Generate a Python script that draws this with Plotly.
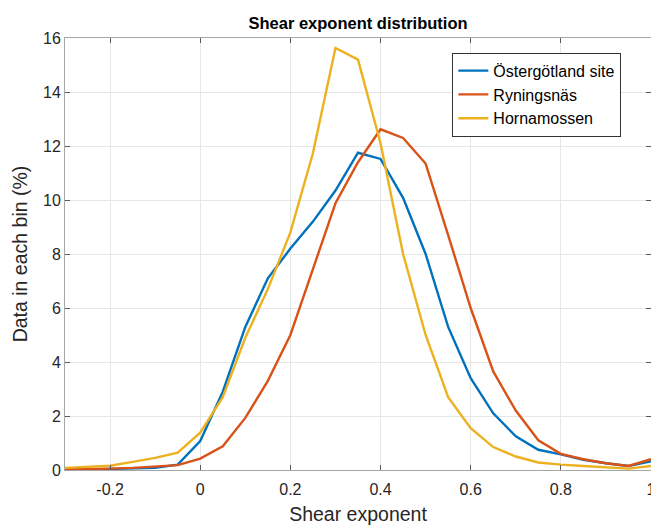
import plotly.graph_objects as go

x_vals = [-0.3, -0.25, -0.2, -0.15, -0.1, -0.05, 0.0, 0.05, 0.1, 0.15, 0.2, 0.25, 0.3, 0.35,
          0.4, 0.45, 0.5, 0.55, 0.6, 0.65, 0.7, 0.75, 0.8, 0.85, 0.9, 0.95, 1.0]
ostergotland = [0.0, 0.02, 0.03, 0.05, 0.08, 0.2, 1.07, 2.9, 5.3, 7.1, 8.2, 9.2, 10.35, 11.75,
                11.52, 10.08, 8.0, 5.3, 3.4, 2.1, 1.25, 0.75, 0.58, 0.38, 0.25, 0.15, 0.32]
ryningsnas = [0.02, 0.03, 0.05, 0.08, 0.12, 0.18, 0.42, 0.88, 1.93, 3.3, 5.0, 7.4, 9.88, 11.4,
              12.62, 12.3, 11.35, 8.7, 6.0, 3.65, 2.2, 1.1, 0.6, 0.4, 0.25, 0.15, 0.4]
hornamossen = [0.08, 0.12, 0.16, 0.3, 0.45, 0.64, 1.38, 2.7, 4.9, 6.7, 8.8, 11.73, 15.63, 15.2,
               12.1, 8.0, 5.0, 2.7, 1.55, 0.85, 0.5, 0.28, 0.2, 0.15, 0.1, 0.05, 0.15]

series = [("Östergötland site", ostergotland, "#0072BD"),
          ("Ryningsnäs", ryningsnas, "#D95319"),
          ("Hornamossen", hornamossen, "#EDB120")]

x_ticks = [-0.2, 0, 0.2, 0.4, 0.6, 0.8, 1]
x_ticklabels = ["-0.2", "0", "0.2", "0.4", "0.6", "0.8", "1"]
y_ticks = [0, 2, 4, 6, 8, 10, 12, 14, 16]

fig = go.Figure()
for name, vals, color in series:
    fig.add_trace(go.Scatter(x=x_vals, y=vals, mode="lines", name=name,
                             line=dict(color=color, width=2.4)))

font_family = "Liberation Sans, Arial, sans-serif"
axis_common = dict(showline=True, linecolor="#A6A6A6", linewidth=1, mirror="ticks",
                   ticks="inside", ticklen=5, tickcolor="#5a5a5a",
                   showgrid=True, gridcolor="#E6E6E6", gridwidth=1, zeroline=False,
                   ticklabeloverflow="allow", automargin=False,
                   tickfont=dict(size=16, color="#262626", family=font_family))

fig.update_layout(
    width=651, height=525,
    margin=dict(l=65, r=0, t=38, b=55),
    paper_bgcolor="white", plot_bgcolor="white",
    title=dict(text="<b>Shear exponent distribution</b>", x=0.55, xanchor="center",
               y=0.955, yanchor="middle",
               font=dict(size=16.5, color="black", family=font_family)),
    xaxis=dict(range=[-0.3, 1.0], tickvals=x_ticks, ticktext=x_ticklabels,
               ticklabelstandoff=5,
               title=dict(text="Shear exponent", standoff=10,
                          font=dict(size=19.5, color="#262626", family=font_family)),
               **axis_common),
    yaxis=dict(range=[0, 16], tickvals=y_ticks,
               title=dict(text="Data in each bin (%)", standoff=10,
                          font=dict(size=19.5, color="#262626", family=font_family)),
               **axis_common),
    legend=dict(x=0.661, y=0.966, xanchor="left", yanchor="top",
                bgcolor="white", bordercolor="#333333", borderwidth=1,
                font=dict(size=16, color="black", family=font_family),
                tracegroupgap=0, itemwidth=30),
    showlegend=True,
)

fig.write_html("out.html")
